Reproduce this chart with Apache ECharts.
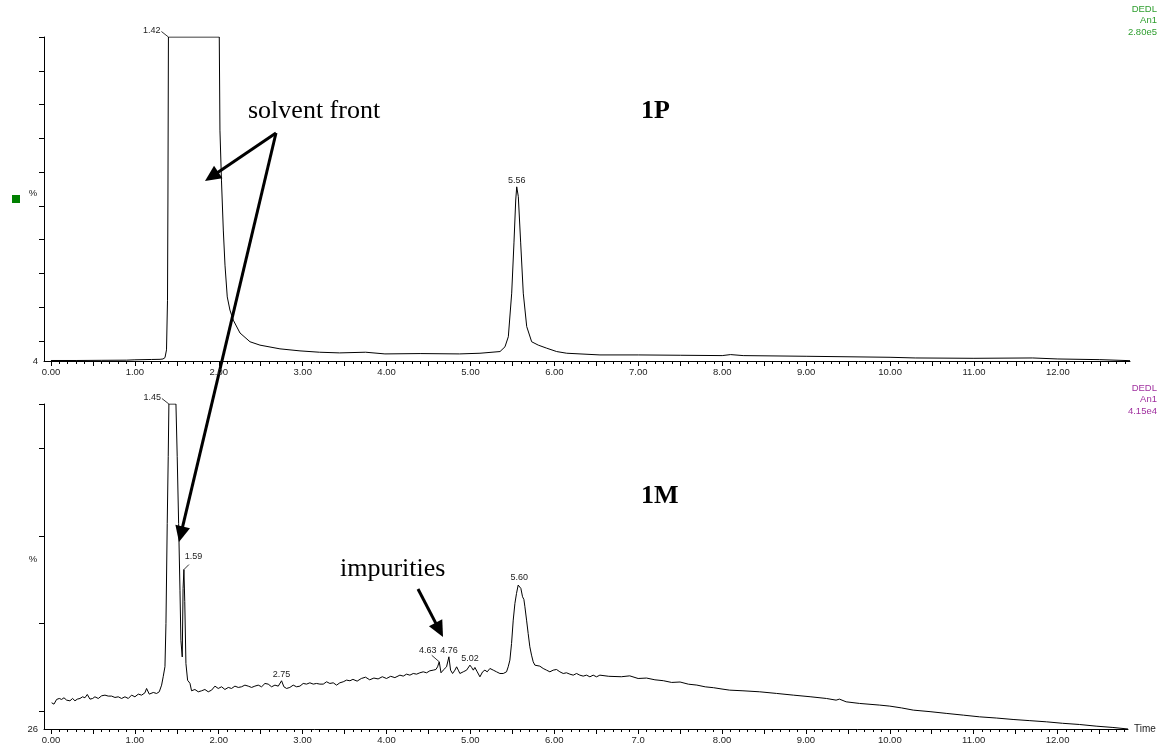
<!DOCTYPE html>
<html><head><meta charset="utf-8">
<script src="https://cdn.jsdelivr.net/npm/echarts@6/dist/echarts.min.js"></script>
<style>html,body{margin:0;padding:0;background:#fff}#c{width:1159px;height:745px}</style>
</head><body><div id="c"></div>
<script>
// ---------- DATA ----------
// Top trace (1P): retention time (min) and signal (%)
const topTime = [0.00,0.30,0.60,0.90,1.00,1.20,1.30,1.335,1.359,1.377,1.389,1.394,1.40,2.006,2.014,2.032,2.054,2.074,2.101,2.133,2.173,2.253,2.372,2.491,2.729,2.968,3.20,3.44,3.75,3.98,4.40,4.87,5.113,5.352,5.411,5.451,5.491,5.518,5.539,5.551,5.570,5.598,5.629,5.670,5.729,5.808,5.908,6.027,6.147,6.543,7.00,7.50,8.00,8.10,8.25,9.00,10.00,10.30,11.00,11.70,12.00,12.50,12.86];
const topSignal = [4.15,4.15,4.2,4.25,4.35,4.45,4.5,4.6,5.0,7.3,22,52,100,100,72.4,57.6,42.8,32.4,23.0,19.1,16.1,12.3,9.7,8.7,7.6,7.0,6.6,6.4,6.6,6.1,6.2,6.1,6.3,6.8,8.2,11.2,24.1,39.0,51.7,55.6,52.7,39.0,24.1,14.2,9.7,8.7,7.8,6.8,6.3,5.8,5.8,5.7,5.6,5.9,5.6,5.4,5.1,4.9,4.8,4.9,4.6,4.4,4.1];

// Bottom trace (1M): retention time (min) and signal (%)
const botTime = [0.008,0.036,0.067,0.099,0.127,0.155,0.187,0.226,0.258,0.286,0.314,0.346,0.377,0.405,0.433,0.465,0.497,0.524,0.564,0.604,0.644,0.683,0.723,0.763,0.802,0.842,0.882,0.922,0.961,1.001,1.041,1.081,1.120,1.140,1.172,1.220,1.259,1.291,1.319,1.338,1.359,1.371,1.386,1.398,1.406,1.490,1.505,1.522,1.538,1.549,1.565,1.575,1.585,1.595,1.609,1.629,1.657,1.676,1.716,1.756,1.796,1.835,1.875,1.915,1.955,1.994,2.034,2.074,2.114,2.153,2.193,2.233,2.272,2.312,2.352,2.392,2.431,2.471,2.511,2.551,2.590,2.630,2.670,2.710,2.749,2.777,2.809,2.848,2.888,2.928,2.968,3.007,3.047,3.087,3.127,3.166,3.206,3.246,3.286,3.325,3.365,3.405,3.444,3.484,3.524,3.564,3.60,3.65,3.70,3.75,3.80,3.85,3.90,3.95,4.00,4.05,4.10,4.160,4.200,4.239,4.279,4.319,4.359,4.398,4.438,4.478,4.517,4.557,4.589,4.609,4.629,4.650,4.676,4.716,4.744,4.764,4.788,4.816,4.836,4.856,4.875,4.915,4.955,4.995,5.015,5.035,5.054,5.082,5.114,5.146,5.173,5.201,5.233,5.273,5.312,5.352,5.392,5.431,5.451,5.471,5.491,5.511,5.531,5.550,5.570,5.582,5.602,5.622,5.638,5.650,5.670,5.689,5.709,5.729,5.749,5.769,5.789,5.828,5.868,5.908,5.948,5.987,6.027,6.067,6.107,6.146,6.186,6.226,6.266,6.305,6.345,6.385,6.425,6.464,6.504,6.544,6.65,6.80,6.90,7.00,7.10,7.20,7.30,7.40,7.50,7.60,7.70,7.80,7.90,8.00,8.09,8.25,8.45,8.65,8.85,9.05,9.245,9.36,9.40,9.48,9.64,9.88,10.00,10.14,10.28,10.48,10.68,10.88,11.07,11.27,11.47,11.67,11.87,12.06,12.26,12.46,12.66,12.84];
const botSignal = [31.97,31.66,32.73,32.95,32.73,33.11,32.57,32.42,32.95,32.42,32.80,32.95,33.33,33.11,33.86,32.80,32.95,33.33,32.95,33.56,33.71,33.49,33.49,33.18,33.33,32.95,33.33,32.95,33.71,33.33,33.94,33.71,34.24,35.23,33.94,34.32,34.09,34.47,35.99,37.9,40.2,50.0,72.8,88.0,100,100,88.0,72.8,57.6,46.2,42.4,58.0,62.3,55.0,40.9,37.1,36.4,34.70,35.00,34.47,34.70,35.00,34.47,34.85,35.76,35.23,35.61,35.00,35.46,35.23,35.76,35.46,35.61,35.99,35.76,35.46,35.76,35.99,35.61,36.37,36.22,35.61,35.99,35.76,36.98,35.61,35.23,35.46,35.99,35.61,35.76,36.37,36.22,36.52,36.22,36.37,36.22,36.22,36.75,36.37,36.52,35.99,36.52,36.75,37.13,36.98,37.3,36.9,37.5,37.8,37.2,37.6,37.4,37.9,37.5,38.0,37.7,38.26,38.04,38.49,38.26,38.64,38.49,38.80,39.02,38.80,39.25,39.40,39.55,40.16,41.30,38.80,39.40,40.16,42.44,39.40,38.64,39.40,40.16,39.40,38.64,39.02,39.40,40.54,40.01,39.40,40.01,39.02,37.88,39.02,39.40,39.02,39.78,39.40,39.02,38.64,38.64,39.02,40.16,41.68,45.48,50.79,54.59,56.87,58.77,58.99,58.01,56.11,55.50,53.83,50.79,47.76,44.72,42.82,41.30,40.54,40.31,40.31,39.78,39.40,39.02,39.40,39.55,39.02,38.64,38.80,38.49,38.26,38.64,38.26,38.04,38.26,37.88,38.26,37.88,38.26,38.0,37.9,38.1,37.5,37.6,37.2,37.0,36.6,36.7,36.2,36.0,35.6,35.4,35.1,34.85,34.7,34.47,34.1,33.71,33.35,32.95,32.57,32.80,32.19,31.82,31.44,31.21,30.8,30.30,29.95,29.54,29.15,28.77,28.5,28.17,27.9,27.63,27.3,27.03,26.65,26.35,26.0];

// Axis tick labels
const xTickValues = [0,1,2,3,4,5,6,7,8,9,10,11,12];
const xTickLabelsTop = ['0.00','1.00','2.00','3.00','4.00','5.00','6.00','7.00','8.00','9.00','10.00','11.00','12.00'];
const xTickLabelsBottom = ['0.00','1.00','2.00','3.00','4.00','5.00','6.00','7.0','8.00','9.00','10.00','11.00','12.00'];
const topYMinLabel = [4];
const botYMinLabel = [26];
const topYTicks = [10,20,30,40,50,60,70,80,90,100];
const botYTicks = [30,50,70,90,100];

// Peak labels
const topPeakText = ['1.42','5.56'];
const topPeakT = [1.40,5.551];
const topPeakV = [100,55.6];
const botPeakText = ['1.45','1.59','2.75','4.63','4.76','5.02','5.60'];
const botPeakT = [1.406,1.585,2.749,4.629,4.744,4.995,5.582];
const botPeakV = [100,62.3,36.98,41.30,42.44,40.54,58.99];

// Header texts
const topHeader = ['DEDL','An1','2.80e5'];
const botHeader = ['DEDL','An1','4.15e4'];

// ---------- CHART ----------
const SANS = "'Liberation Sans', Arial, sans-serif";
const SERIF = "'Liberation Serif', 'Times New Roman', serif";
const pairs = (a, b) => a.map((t, i) => [t, b[i]]);
const majorTicks = [], minorTicks = [];
for (let i = 0; i <= 128; i++) {
  const v = i / 10;
  if (i % 5 === 0) majorTicks.push(v); else minorTicks.push(v);
}
const X_MIN = -0.083;

function xAxes(grid, max, labels, withName) {
  const main = {
    type: 'value', gridIndex: grid, min: X_MIN, max: max, position: 'bottom',
    axisLine: {show: true, onZero: false, lineStyle: {color: '#000', width: 1}},
    axisTick: {show: true, customValues: majorTicks, length: 5, lineStyle: {color: '#000'}},
    axisLabel: {show: true, customValues: xTickValues, margin: 6, fontSize: 9.5, fontFamily: SANS, color: '#222',
      formatter: v => { const k = xTickValues.indexOf(Math.round(v)); return k >= 0 ? labels[k] : ''; }},
    splitLine: {show: false}
  };
  if (withName) {
    main.name = 'Time'; main.nameLocation = 'end'; main.nameGap = 6;
    main.nameTextStyle = {fontSize: 10, fontFamily: SANS, color: '#222'};
  }
  const minor = {
    type: 'value', gridIndex: grid, min: X_MIN, max: max, position: 'bottom',
    axisLine: {show: false, onZero: false},
    axisTick: {show: true, customValues: minorTicks, length: 3, lineStyle: {color: '#000'}},
    axisLabel: {show: false}, splitLine: {show: false}
  };
  return [main, minor];
}
function yAxis(grid, min, ticks, lab) {
  return {
    type: 'value', gridIndex: grid, min: min, max: 100,
    axisLine: {show: true, onZero: false, lineStyle: {color: '#000', width: 1}},
    axisTick: {show: true, customValues: ticks, length: 5, lineStyle: {color: '#000'}},
    axisLabel: {show: true, customValues: lab, margin: 6, fontSize: 9.5, fontFamily: SANS, color: '#222'},
    splitLine: {show: false}
  };
}

const chart = echarts.init(document.getElementById('c'), null, {renderer: 'canvas'});
chart.setOption({
  animation: false,
  backgroundColor: '#fff',
  grid: [
    {left: 44, right: 29, top: 37, height: 324, show: false},
    {left: 44, right: 31, top: 404, height: 325, show: false}
  ],
  xAxis: [...xAxes(0, 12.86, xTickLabelsTop, false), ...xAxes(1, 12.84, xTickLabelsBottom, true)],
  yAxis: [yAxis(0, 4, topYTicks, topYMinLabel), yAxis(1, 26, botYTicks, botYMinLabel)],
  series: [
    {type: 'line', xAxisIndex: 0, yAxisIndex: 0, data: pairs(topTime, topSignal), showSymbol: false,
     lineStyle: {color: '#000', width: 1}, clip: true, silent: true},
    {type: 'line', xAxisIndex: 2, yAxisIndex: 1, data: pairs(botTime, botSignal), showSymbol: false,
     lineStyle: {color: '#000', width: 1}, clip: true, silent: true}
  ]
});

// ---------- ANNOTATIONS ----------
const g = [];
function txt(text, x, y, opt) {
  g.push({type: 'text', silent: true, style: Object.assign({
    text: text, x: x, y: y, fill: '#222', fontSize: 9, fontFamily: SANS,
    align: 'center', verticalAlign: 'middle', textAlign: 'center', textVerticalAlign: 'middle'}, opt || {})});
}
function seg(x1, y1, x2, y2, w) {
  g.push({type: 'line', silent: true, shape: {x1, y1, x2, y2}, style: {stroke: '#000', lineWidth: w || 0.8}});
}
function arrow(x1, y1, x2, y2) {
  const dx = x2 - x1, dy = y2 - y1, L = Math.hypot(dx, dy), ux = dx / L, uy = dy / L;
  const hl = 16, hw = 7.5;
  const bx = x2 - ux * hl, by = y2 - uy * hl;
  seg(x1, y1, bx + ux * 2, by + uy * 2, 3);
  g.push({type: 'polygon', silent: true, shape: {points: [[x2, y2], [bx - uy * hw, by + ux * hw], [bx + uy * hw, by - ux * hw]]}, style: {fill: '#000'}});
}
function peakLabels(texts, ts, vs, layouts, xi, yi) {
  texts.forEach((t, i) => {
    const p = chart.convertToPixel({xAxisIndex: xi, yAxisIndex: yi}, [ts[i], vs[i]]);
    const L = layouts[i];
    if (L === 'left') {
      seg(p[0], p[1], p[0] - 7, p[1] - 5.5);
      txt(t, p[0] - 8, p[1] - 6, {align: 'right', textAlign: 'right'});
    } else if (L === 'rightUp') {
      seg(p[0], p[1], p[0] + 5, p[1] - 5);
      txt(t, p[0] + 9.5, p[1] - 13);
    } else if (L === 'leftUp') {
      seg(p[0], p[1], p[0] - 7.5, p[1] - 6.5);
      txt(t, p[0] - 11.5, p[1] - 11.5);
    } else {
      txt(t, p[0], p[1] - 6.5);
    }
  });
}
peakLabels(topPeakText, topPeakT, topPeakV, ['left', 'above'], 0, 0);
peakLabels(botPeakText, botPeakT, botPeakV, ['left', 'rightUp', 'above', 'leftUp', 'above', 'above', 'above'], 2, 1);

// header texts at right
topHeader.forEach((t, i) => txt(t, 1157, 9 + i * 11.5, {align: 'right', textAlign: 'right', fill: '#2e9e2e', fontSize: 9.5}));
botHeader.forEach((t, i) => txt(t, 1157, 388 + i * 11.5, {align: 'right', textAlign: 'right', fill: '#a0309f', fontSize: 9.5}));

// y-axis unit labels & marker
txt('%', 33, 193, {fontSize: 9.5});
txt('%', 33, 559, {fontSize: 9.5});
g.push({type: 'rect', silent: true, shape: {x: 12, y: 195, width: 8, height: 8}, style: {fill: '#008000'}});

// titles and annotations
txt('solvent front', 248, 111, {align: 'left', textAlign: 'left', fill: '#000', fontSize: 26, fontFamily: SERIF});
txt('1P', 641, 111, {align: 'left', textAlign: 'left', fill: '#000', fontSize: 26, fontFamily: SERIF, fontWeight: 'bold'});
txt('1M', 641, 496, {align: 'left', textAlign: 'left', fill: '#000', fontSize: 26, fontFamily: SERIF, fontWeight: 'bold'});
txt('impurities', 340, 569, {align: 'left', textAlign: 'left', fill: '#000', fontSize: 26, fontFamily: SERIF});
arrow(276, 133, 205, 181);
arrow(276, 133, 179, 542);
arrow(418, 589, 443, 637);

chart.setOption({graphic: g});
</script>
</body></html>
